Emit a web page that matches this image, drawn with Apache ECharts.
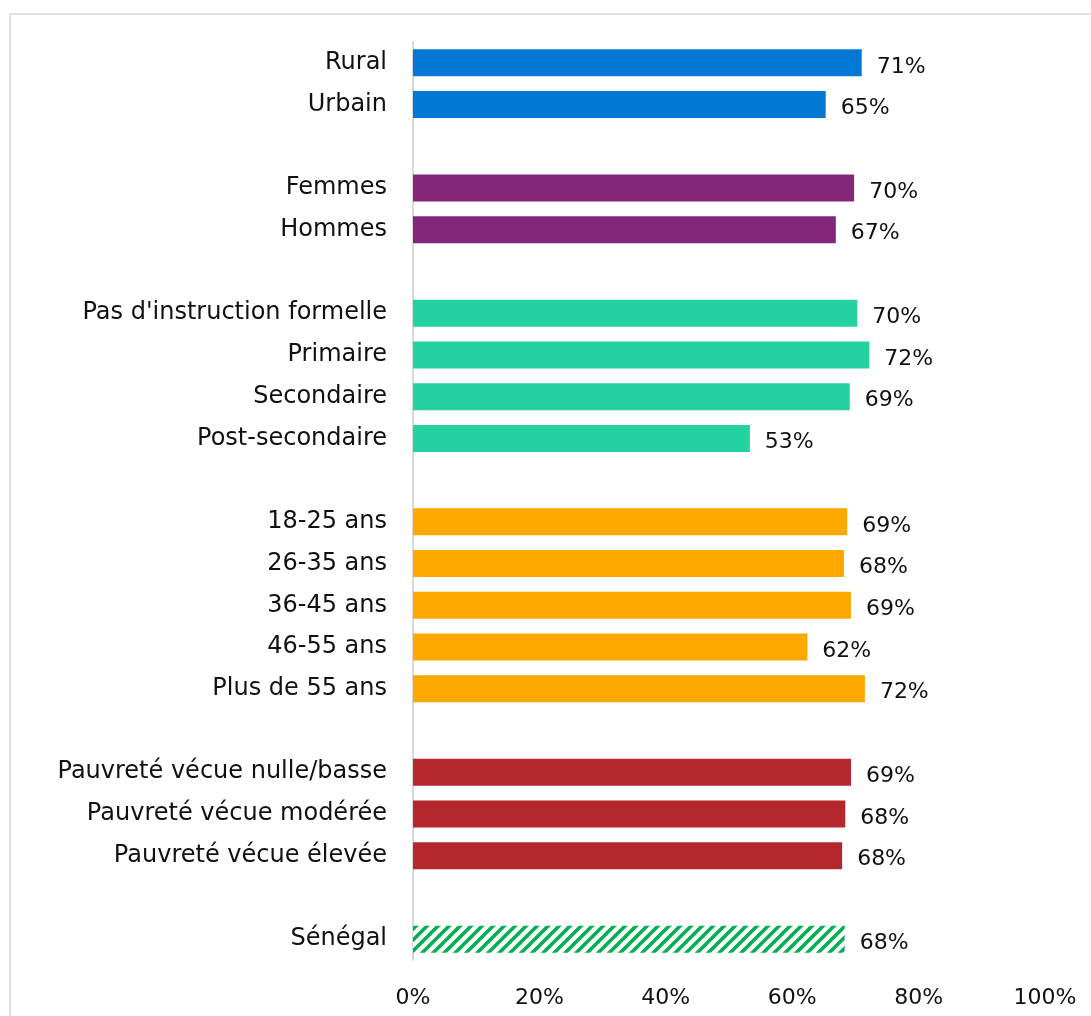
<!DOCTYPE html>
<html>
<head>
<meta charset="utf-8">
<script src="https://cdn.jsdelivr.net/npm/echarts@6/dist/echarts.min.js"></script>
<style>
  html, body { margin: 0; padding: 0; background: #fff; overflow: hidden; }
  #chart { width: 1091px; height: 1016px; }
</style>
</head>
<body>
<div id="chart"></div>
<script>
// groupes de la figure (valeurs en %)
const milieuLabels = ['Rural', 'Urbain']
const milieuValues = [71.0, 65.3]
const genreLabels = ['Femmes', 'Hommes']
const genreValues = [69.8, 66.9]
const instructionLabels = ["Pas d'instruction formelle", 'Primaire', 'Secondaire', 'Post-secondaire']
const instructionValues = [70.3, 72.2, 69.1, 53.3]
const ageLabels = ['18-25 ans', '26-35 ans', '36-45 ans', '46-55 ans', 'Plus de 55 ans']
const ageValues = [68.7, 68.2, 69.3, 62.4, 71.5]
const pauvreteLabels = ['Pauvreté vécue nulle/basse', 'Pauvreté vécue modérée', 'Pauvreté vécue élevée']
const pauvreteValues = [69.3, 68.4, 67.9]
const paysLabels = ['Sénégal']
const paysValues = [68.3]
const xTicks = [0, 20, 40, 60, 80, 100]

const groupColors = ['#0078d4', '#84277a', '#24d1a0', '#ffa800', '#b3272d', 'hatch']

// motif hachuré pour la barre Sénégal
function hatchPattern () {
  let c = document.createElement('canvas')
  c.width = 11
  c.height = 11
  let ctx = c.getContext('2d')
  ctx.fillStyle = '#fff'
  ctx.fillRect(0, 0, 11, 11)
  ctx.strokeStyle = '#00b050'
  ctx.lineWidth = 3.5
  for (let k = -1; k <= 1; k++) {
    ctx.beginPath()
    ctx.moveTo(k * 11 - 2, 13)
    ctx.lineTo(k * 11 + 13, -2)
    ctx.stroke()
  }
  return { image: c, repeat: 'repeat' }
}

const groups = [
  [milieuLabels, milieuValues],
  [genreLabels, genreValues],
  [instructionLabels, instructionValues],
  [ageLabels, ageValues],
  [pauvreteLabels, pauvreteValues],
  [paysLabels, paysValues]
]

let categories = []
let barData = []
groups.forEach((g, gi) => {
  if (gi > 0) {
    categories.push(' '.repeat(gi))
    barData.push('-')
  }
  let color = groupColors[gi] === 'hatch' ? hatchPattern() : groupColors[gi]
  g[0].forEach((name, i) => {
    categories.push(name)
    barData.push({ value: g[1][i], itemStyle: { color: color } })
  })
})

const fontFamily = `'Century Gothic', 'DejaVu Sans', sans-serif`

let chart = echarts.init(document.getElementById('chart'))
chart.setOption({
  animation: false,
  backgroundColor: '#fff',
  graphic: [{
    type: 'line',
    shape: { x1: 10, y1: 14, x2: 10, y2: 1016 },
    style: { stroke: '#e0e0e0', lineWidth: 2 },
    silent: true
  }, {
    type: 'line',
    shape: { x1: 9, y1: 14, x2: 1091, y2: 14 },
    style: { stroke: '#e0e0e0', lineWidth: 2 },
    silent: true
  }],
  grid: {
    left: 413,
    right: 46,
    top: 42,
    bottom: 56,
    containLabel: false
  },
  xAxis: {
    type: 'value',
    min: 0,
    max: 100,
    interval: 20,
    splitLine: { show: false },
    axisLine: { show: false },
    axisTick: { show: false },
    axisLabel: {
      margin: 27,
      color: '#111',
      fontSize: 22,
      fontFamily: fontFamily,
      formatter: v => xTicks.includes(v) ? v + '%' : ''
    }
  },
  yAxis: {
    type: 'category',
    inverse: true,
    data: categories,
    axisLine: { show: true, lineStyle: { color: '#d9d9d9', width: 2 } },
    axisTick: { show: false },
    axisLabel: {
      margin: 26,
      color: '#111',
      fontSize: 24,
      padding: [7, 0, 0, 0],
      fontFamily: fontFamily
    }
  },
  series: [{
    type: 'bar',
    barWidth: 27,
    data: barData,
    label: {
      show: true,
      position: 'right',
      distance: 15,
      offset: [0, 4],
      color: '#111',
      fontSize: 22,
      fontFamily: fontFamily,
      formatter: p => Math.round(p.value) + '%'
    }
  }]
})
</script>
</body>
</html>
